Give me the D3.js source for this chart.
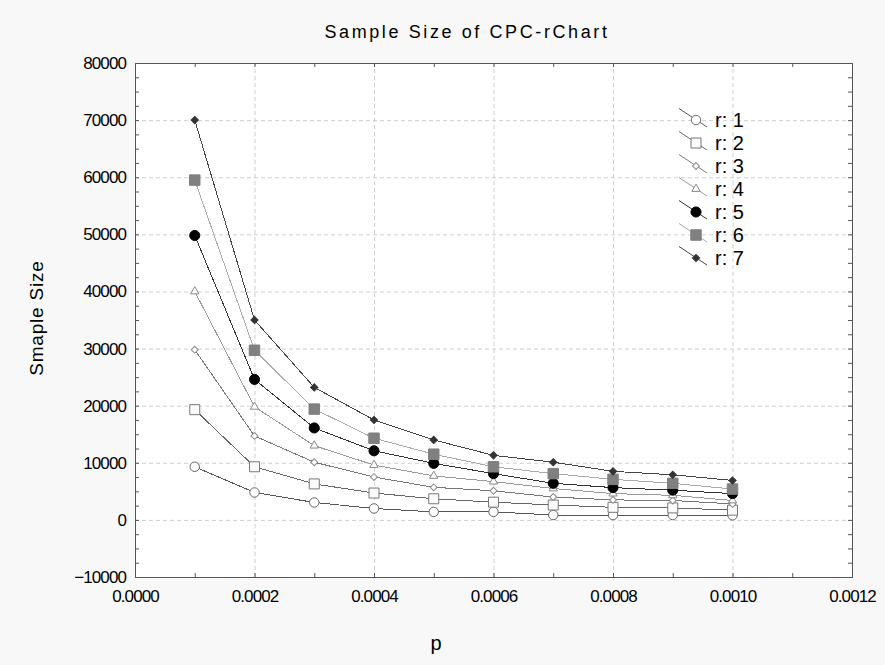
<!DOCTYPE html>
<html><head><meta charset="utf-8">
<script src="https://cdn.jsdelivr.net/npm/d3@7"></script>
<style>
body{margin:0;background:#f8f8f8}
text{font-family:"Liberation Sans",Arial,sans-serif}
</style>
</head><body>
<svg id="chart" width="885" height="665"></svg>
<script>
// ---------- data ----------
const pValues = [0.0001,0.0002,0.0003,0.0004,0.0005,0.0006,0.0007,0.0008,0.0009,0.0010];
const seriesNames = ["r: 1","r: 2","r: 3","r: 4","r: 5","r: 6","r: 7"];
const r1 = [9300, 4800, 3050, 2000, 1400, 1400,  850,  850,  850,  800];
const r2 = [19300, 9300, 6300, 4700, 3700, 3100, 2600, 2200, 2100, 1700];
const r3 = [29800,14700,10100, 7500, 5700, 5100, 4000, 3500, 3400, 2800];
const r4 = [40000,19800,13000, 9600, 7700, 6700, 5500, 4600, 4300, 3400];
const r5 = [49800,24600,16100,12100, 9900, 8100, 6400, 5650, 5200, 4600];
const r6 = [59500,29700,19400,14300,11500, 9300, 8100, 7100, 6400, 5400];
const r7 = [70000,35000,23200,17500,14000,11300,10100, 8500, 7900, 6900];
const xTicks = [0,0.0002,0.0004,0.0006,0.0008,0.0010,0.0012];
const xTickLabels = ["0.0000","0.0002","0.0004","0.0006","0.0008","0.0010","0.0012"];
const yTicks = [-10000,0,10000,20000,30000,40000,50000,60000,70000,80000];
const titleText = "Sample Size of CPC-rChart";
const xTitle = "p";
const yTitle = "Smaple Size";

// ---------- styles ----------
const seriesValues = [r1,r2,r3,r4,r5,r6,r7];
const styles = [
  {line:"#555", shape:"circle",  size:70,  fill:"#fff",    stroke:"#666"},
  {line:"#666", shape:"square",  size:100, fill:"#fafafa", stroke:"#777"},
  {line:"#777", shape:"diamond", size:24,  fill:"#fff",    stroke:"#888"},
  {line:"#999", shape:"triangle",size:30,  fill:"#fff",    stroke:"#888"},
  {line:"#333", shape:"circle",  size:80,  fill:"#000",    stroke:"#000"},
  {line:"#aaa", shape:"square",  size:110, fill:"#808080", stroke:"#808080"},
  {line:"#444", shape:"diamond", size:26,  fill:"#333",    stroke:"#333"}
];
const symType = {circle:d3.symbolCircle, square:d3.symbolSquare, diamond:d3.symbolSquare, triangle:d3.symbolTriangle};

const svg = d3.select("#chart");
const L=135, R=852, T=63, B=577;
const x = d3.scaleLinear().domain([0,0.0012]).range([L,R]);
const y = d3.scaleLinear().domain([-10000,80000]).range([B,T]);

svg.append("rect").attr("x",0).attr("y",0).attr("width",885).attr("height",665).attr("fill","#f8f8f8");
svg.append("rect").attr("x",L).attr("y",T).attr("width",R-L).attr("height",B-T).attr("fill","#fff");

// grid
const gGrid = svg.append("g");
gGrid.append("g").attr("transform",`translate(0,${B})`)
  .call(d3.axisBottom(x).tickValues(xTicks.slice(1,-1)).tickSize(-(B-T)).tickFormat(""))
  .call(g=>g.select(".domain").remove())
  .selectAll("line").attr("stroke","#cfcfcf").attr("stroke-dasharray","4,3");
gGrid.append("g").attr("transform",`translate(${L},0)`)
  .call(d3.axisLeft(y).tickValues(yTicks.slice(1,-1)).tickSize(-(R-L)).tickFormat(""))
  .call(g=>g.select(".domain").remove())
  .selectAll("line").attr("stroke","#cfcfcf").attr("stroke-dasharray","4,3");

// minor/major ticks (inward)
const minorX = d3.range(1,12,2).map(i=>i*0.0001);
const minorY = d3.range(-10000,80001,2500);
function tickAxis(axis, tr){
  svg.append("g").attr("transform",tr).call(axis)
    .call(g=>g.select(".domain").remove())
    .call(g=>g.selectAll("text").remove())
    .selectAll("line").attr("stroke","#555");
}
tickAxis(d3.axisBottom(x).tickValues(minorX.concat(xTicks)).tickSize(-4), `translate(0,${B})`);
tickAxis(d3.axisTop(x).tickValues(minorX.concat(xTicks)).tickSize(-4), `translate(0,${T})`);
tickAxis(d3.axisLeft(y).tickValues(minorY).tickSize(-4), `translate(${L},0)`);
tickAxis(d3.axisRight(y).tickValues(minorY).tickSize(-4), `translate(${R},0)`);

// tick labels
svg.append("g").attr("transform",`translate(${L},0)`)
  .call(d3.axisLeft(y).tickValues(yTicks).tickSize(0).tickPadding(9).tickFormat(d3.format("d")))
  .call(g=>g.select(".domain").remove())
  .selectAll("text").attr("font-size",17).attr("fill","#000")
  .attr("font-family","'Liberation Sans',Arial,sans-serif").attr("letter-spacing","-0.9");
svg.append("g").attr("transform",`translate(0,${B})`)
  .call(d3.axisBottom(x).tickValues(xTicks).tickSize(0).tickPadding(13).tickFormat((d,i)=>xTickLabels[i]))
  .call(g=>g.select(".domain").remove())
  .selectAll("text").attr("font-size",17).attr("fill","#000")
  .attr("font-family","'Liberation Sans',Arial,sans-serif").attr("letter-spacing","-0.9");

// frame
svg.append("rect").attr("x",L).attr("y",T).attr("width",R-L).attr("height",B-T)
  .attr("fill","none").attr("stroke","#555").attr("stroke-width",1).attr("shape-rendering","crispEdges");

// series
const line = d3.line().x(d=>x(d.p)).y(d=>y(d.v));
seriesValues.forEach((vals,si)=>{
  const st = styles[si];
  const pts = vals.map((v,i)=>({p:pValues[i], v}));
  const g = svg.append("g");
  g.append("path").datum(pts).attr("d",line).attr("fill","none")
    .attr("stroke",st.line).attr("stroke-width",1).attr("shape-rendering","crispEdges");
  g.selectAll("path.m").data(pts).join("path").attr("class","m")
    .attr("d",d3.symbol(symType[st.shape], st.size))
    .attr("transform",d=>`translate(${x(d.p)},${y(d.v)})${st.shape==="diamond"?" rotate(45)":""}`)
    .attr("fill",st.fill).attr("stroke",st.stroke).attr("stroke-width",1);
});

// legend
const leg = svg.append("g");
seriesNames.forEach((name,i)=>{
  const st = styles[i];
  const yc = 120 + i*23;
  leg.append("line").attr("x1",679).attr("y1",yc-11.5).attr("x2",707).attr("y2",yc+7)
    .attr("stroke",st.line).attr("stroke-width",1);
  leg.append("path").attr("d",d3.symbol(symType[st.shape], st.size)())
    .attr("transform",`translate(696,${yc})${st.shape==="diamond"?" rotate(45)":""}`)
    .attr("fill",st.fill).attr("stroke",st.stroke);
  leg.append("text").attr("x",715).attr("y",yc+7).attr("font-size",20).attr("fill","#000").text(name);
});

// titles
svg.append("text").attr("x",467).attr("y",38).attr("text-anchor","middle")
  .attr("font-size",18).attr("letter-spacing","2.6").attr("fill","#000").text(titleText);
svg.append("text").attr("x",436).attr("y",650).attr("text-anchor","middle")
  .attr("font-size",20).attr("fill","#000").text(xTitle);
svg.append("text").attr("transform","translate(43,318) rotate(-90)").attr("text-anchor","middle")
  .attr("font-size",19).attr("letter-spacing","0.8").attr("fill","#000").text(yTitle);
</script>
</body></html>
